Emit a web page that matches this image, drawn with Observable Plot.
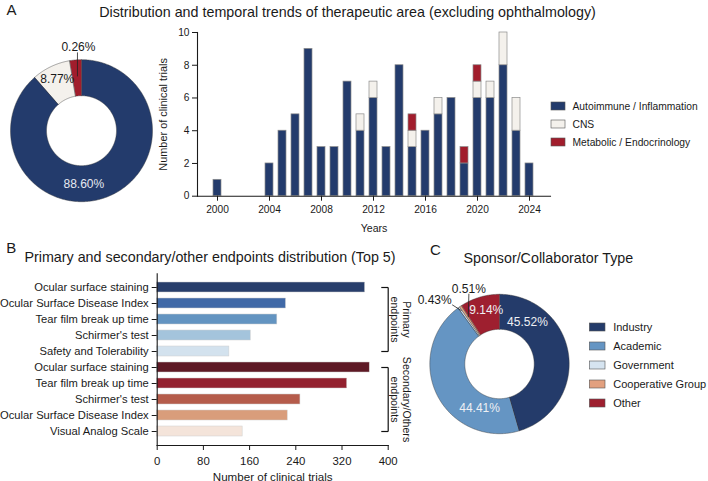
<!DOCTYPE html>
<html>
<head>
<meta charset="utf-8">
<script src="https://cdn.jsdelivr.net/npm/d3@7"></script>
<script src="https://cdn.jsdelivr.net/npm/@observablehq/plot@0.6"></script>
<style>
  html, body { margin: 0; padding: 0; background: #fff; }
  #fig { position: relative; width: 708px; height: 481px; overflow: hidden;
         font-family: "Liberation Sans", Arial, Helvetica, sans-serif; color: #1a1a1a; }
  .panel { position: absolute; }
  .txt { position: absolute; white-space: nowrap; line-height: 1; }
</style>
</head>
<body>
<div id="fig"></div>
<script>
// ---- Data -------------------------------------------------------------
// Panel A: trials per year by therapeutic area
const areas = ["Autoimmune / Inflammation", "CNS", "Metabolic / Endocrinology"];
const years = [2000, 2001, 2002, 2003, 2004, 2005, 2006, 2007, 2008, 2009, 2010, 2011, 2012,
               2013, 2014, 2015, 2016, 2017, 2018, 2019, 2020, 2021, 2022, 2023, 2024];
const autoimmune = [1, 0, 0, 0, 2, 4, 5, 9, 3, 3, 7, 4, 6, 3, 8, 3, 4, 5, 6, 2, 6, 6, 8, 4, 2];
const cns        = [0, 0, 0, 0, 0, 0, 0, 0, 0, 0, 0, 1, 1, 0, 0, 1, 0, 1, 0, 0, 1, 1, 2, 2, 0];
const metabolic  = [0, 0, 0, 0, 0, 0, 0, 0, 0, 0, 0, 0, 0, 0, 0, 1, 0, 0, 0, 1, 1, 0, 0, 0, 0];
const yearTicks = [2000, 2004, 2008, 2012, 2016, 2020, 2024];
const countTicks = [0, 2, 4, 6, 8, 10];
const areaShareLabels = ["88.60%", "8.77%", "0.26%"];

// Panel B: top-5 endpoints
const endpointNames = [
  "Ocular surface staining", "Ocular Surface Disease Index", "Tear film break up time",
  "Schirmer's test", "Safety and Tolerability",
  "Ocular surface staining", "Tear film break up time", "Schirmer's test",
  "Ocular Surface Disease Index", "Visual Analog Scale"
];
const endpointTrials = [360, 223, 208, 162, 125, 368, 329, 248, 226, 148];
const endpointGroupNames = ["Primary\nendpoints", "Secondary/Others\nendpoints"];
const endpointGroupRows = [[0, 4], [5, 9]];
const trialTicks = [0, 80, 160, 240, 320, 400];

// Panel C: sponsor / collaborator type (%)
const sponsorTypes = ["Industry", "Academic", "Government", "Cooperative Group", "Other"];
const sponsorShare = [45.52, 44.41, 0.43, 0.51, 9.14];

// ---- Styles -----------------------------------------------------------
const FONT = "'Liberation Sans', Arial, Helvetica, sans-serif";
const INK = "#1a1a1a";
const areaColors = ["#233b6c", "#f4f1ec", "#a11d2c"];
const endpointColors = ["#283e6b", "#4069a7", "#6394c1", "#a4c4dc", "#d3e2ee",
                        "#5e1925", "#93212f", "#b55c4b", "#d99d7b", "#f4e4da"];
const sponsorColors = ["#243b6a", "#6595c3", "#d6e4f0", "#e2a07f", "#9e1f2f"];
const baseStyle = {fontFamily: FONT, color: INK, background: "transparent", overflow: "visible"};

const fig = document.getElementById("fig");

function place(node, left, top) {
  const wrap = document.createElement("div");
  wrap.className = "panel";
  wrap.style.left = left + "px";
  wrap.style.top = top + "px";
  wrap.append(node);
  fig.append(wrap);
}

function caption(text, {x, baseline, size, anchor = "start"}) {
  const div = document.createElement("div");
  div.className = "txt";
  div.textContent = text;
  div.style.fontSize = size + "px";
  div.style.top = (baseline - 0.8465 * size) + "px";
  div.style.left = x + "px";
  if (anchor === "middle") div.style.transform = "translateX(-50%)";
  fig.append(div);
}

// Donut drawn as filled bands between an outer and inner radius (1 unit = 1 px)
function donut({names, values, colors, width, height, cx, cy, rOuter, rInner, labels, fontSize}) {
  const total = d3.sum(values);
  const ends = Array.from(d3.cumsum(values), (v) => v / total * 360);
  const starts = [0, ...ends.slice(0, -1)];
  const mids = names.map((_, i) => (starts[i] + ends[i]) / 2);
  const rad = (a) => a * Math.PI / 180;
  const polar = (a, r) => ({x: r * Math.sin(rad(a)), y: r * Math.cos(rad(a))});
  const ring = names.flatMap((name, i) => {
    const n = Math.max(2, Math.ceil((ends[i] - starts[i]) / 0.5));
    return d3.range(n + 1).map((k) => {
      const a = starts[i] + (ends[i] - starts[i]) * k / n;
      const o = polar(a, rOuter), q = polar(a, rInner);
      return {name, x1: o.x, y1: o.y, x2: q.x, y2: q.y};
    });
  });
  const leaders = [];
  const texts = [];
  for (const l of labels) {
    if (l.leader) {
      const s = polar(mids[l.i], l.leader.r0);
      const e = {x: s.x + l.leader.dx, y: s.y + l.leader.dy};
      leaders.push({x1: s.x, y1: s.y, x2: e.x, y2: e.y});
      texts.push({x: e.x + l.offset[0], y: e.y + l.offset[1], text: l.text, fill: l.fill, anchor: l.anchor || "middle"});
    } else {
      const p = polar(l.angle ?? mids[l.i], l.r);
      texts.push({x: p.x, y: p.y, text: l.text, fill: l.fill, anchor: "middle"});
    }
  }
  return Plot.plot({
    width, height, margin: 0,
    style: baseStyle,
    x: {domain: [-cx, width - cx], axis: null},
    y: {domain: [cy - height, cy], axis: null},
    color: {domain: names, range: colors},
    marks: [
      Plot.area(ring, {x1: "x1", y1: "y1", x2: "x2", y2: "y2", z: "name", fill: "name",
                       stroke: "#3a3a3a", strokeWidth: 0.45}),
      Plot.link(leaders, {x1: "x1", y1: "y1", x2: "x2", y2: "y2", stroke: "#222", strokeWidth: 0.8}),
      ...texts.map((t) => Plot.text([t], {x: "x", y: "y", text: "text", fill: t.fill,
                                          textAnchor: t.anchor, fontSize}))
    ]
  });
}

function swatches({names, colors, width, step, swatchX, swatchHeight, gap, fontSize}) {
  const p = 1 - swatchHeight / step;
  return Plot.plot({
    width, height: step * names.length, margin: 0,
    style: baseStyle,
    x: {domain: [0, 1], range: swatchX, axis: null},
    y: {type: "band", domain: names, paddingInner: p, paddingOuter: p / 2, axis: null},
    color: {domain: names, range: colors},
    marks: [
      Plot.barX(names, {x1: 0, x2: 1, y: (d) => d, fill: (d) => d, stroke: "#555", strokeWidth: 0.6}),
      Plot.text(names, {x: 1, y: (d) => d, text: (d) => d, textAnchor: "start", dx: gap,
                        fontSize, fill: INK})
    ]
  });
}

// ---- Panel A ----------------------------------------------------------
caption("A", {x: 6.5, baseline: 14.5, size: 15});
caption("Distribution and temporal trends of therapeutic area (excluding ophthalmology)",
        {x: 347.5, baseline: 16.8, size: 14.3, anchor: "middle"});

const areaCounts = [d3.sum(autoimmune), d3.sum(cns), d3.sum(metabolic)];
place(donut({
  names: areas, values: areaCounts, colors: areaColors,
  width: 165, height: 170, cx: 81.5, cy: 90.7, rOuter: 71, rInner: 35, fontSize: 12,
  labels: [
    {i: 0, angle: 178, r: 52.6, text: areaShareLabels[0], fill: "#e6e9f0"},
    {i: 1, r: 58, text: areaShareLabels[1], fill: INK},
    {i: 2, text: areaShareLabels[2], fill: INK, leader: {r0: 55, dx: 0, dy: 24}, offset: [1, 5.4]}
  ]
}), 0, 40);

const trialsByYear = years.flatMap((year, i) => [
  {year, area: areas[0], n: autoimmune[i]},
  {year, area: areas[1], n: cns[i]},
  {year, area: areas[2], n: metabolic[i]}
]).filter((d) => d.n > 0);

place(Plot.plot({
  width: 402, height: 215,
  marginLeft: 47, marginRight: 2, marginTop: 12, marginBottom: 39.3,
  style: baseStyle,
  x: {type: "band", domain: years, paddingInner: 0.36, paddingOuter: 0.29},
  y: {domain: [0, 10]},
  color: {domain: areas, range: areaColors},
  marks: [
    Plot.barY(trialsByYear, {x: "year", y: "n", fill: "area", stroke: "#8c8c8c", strokeWidth: 0.7}),
    Plot.frame({anchor: "left", strokeWidth: 1.1}),
    Plot.frame({anchor: "bottom", strokeWidth: 1.1}),
    Plot.axisX({ticks: yearTicks, tickFormat: (d) => `${d}`, tickSize: 5, tickPadding: 5,
                fontSize: 10.2, label: null}),
    Plot.axisX({ticks: [], fontSize: 10.6, label: "Years", labelAnchor: "center",
                labelArrow: "none", labelOffset: 36}),
    Plot.axisY({ticks: countTicks, tickSize: 5, tickPadding: 3, fontSize: 10.2, label: null}),
    Plot.axisY({ticks: [], fontSize: 10.9, label: "Number of clinical trials", labelAnchor: "center",
                labelArrow: "none", labelOffset: 38})
  ]
}), 150, 20);

place(swatches({names: areas, colors: areaColors, width: 160, step: 18.33,
                swatchX: [3, 17], swatchHeight: 8, gap: 7, fontSize: 10.3}), 548, 95.8);

// ---- Panel B ----------------------------------------------------------
caption("B", {x: 6.2, baseline: 252.5, size: 15});
caption("Primary and secondary/other endpoints distribution (Top 5)",
        {x: 210, baseline: 262, size: 14.3, anchor: "middle"});

const endpointRows = endpointNames.map((name, key) => ({key, name, n: endpointTrials[key]}));
const endpointGroups = endpointGroupNames.map((name, g) => ({
  name, first: endpointGroupRows[g][0], last: endpointGroupRows[g][1],
  mid: (endpointGroupRows[g][0] + endpointGroupRows[g][1]) / 2
}));
const bracketEnds = endpointGroups.flatMap((g) => [g.first, g.last]);

place(Plot.plot({
  width: 420, height: 216,
  marginLeft: 156.7, marginRight: 32.3, marginTop: 8.3, marginBottom: 36,
  style: baseStyle,
  x: {domain: [0, 400]},
  y: {type: "band", domain: endpointRows.map((d) => d.key), padding: 0.35},
  color: {domain: endpointRows.map((d) => d.key), range: endpointColors},
  marks: [
    Plot.barX(endpointRows, {x: "n", y: "key", fill: "key", stroke: "#cfcfcf", strokeWidth: 0.5}),
    Plot.frame({anchor: "left", strokeWidth: 1.1}),
    Plot.frame({anchor: "bottom", strokeWidth: 1.1}),
    Plot.axisY({tickFormat: (k) => endpointNames[k], tickSize: 5, tickPadding: 3.5,
                fontSize: 11.2, label: null}),
    Plot.axisX({ticks: trialTicks, tickSize: 5, tickPadding: 6, fontSize: 11.4, label: null}),
    Plot.axisX({ticks: [], fontSize: 11.6, label: "Number of clinical trials", labelAnchor: "center",
                labelArrow: "none", labelOffset: 35}),
    // group brackets on the right edge
    Plot.link(endpointGroups, {x1: 400, x2: 400, y1: "first", y2: "last", stroke: "#111", strokeWidth: 1.2}),
    Plot.link(bracketEnds, {x1: 388, x2: 400, y1: (d) => d, y2: (d) => d, stroke: "#111", strokeWidth: 1.2}),
    Plot.text(endpointGroups, {x: 400, y: (d) => d.mid, text: "name", rotate: 90, dx: 13,
                               fontSize: 10.6, lineHeight: 1.12, fill: INK})
  ]
}), 0, 265);

// ---- Panel C ----------------------------------------------------------
caption("C", {x: 430, baseline: 255, size: 15});
caption("Sponsor/Collaborator Type", {x: 548.3, baseline: 263, size: 14.3, anchor: "middle"});

const pct = (v) => `${v.toFixed(2)}%`;
place(donut({
  names: sponsorTypes, values: sponsorShare, colors: sponsorColors,
  width: 150, height: 165, cx: 74.5, cy: 84, rOuter: 69.7, rInner: 34.7, fontSize: 12,
  labels: [
    {i: 0, angle: 33, r: 50.4, text: pct(sponsorShare[0]), fill: "#eef0f4"},
    {i: 1, angle: 205, r: 48.3, text: pct(sponsorShare[1]), fill: "#eef0f4"},
    {i: 2, text: pct(sponsorShare[2]), fill: INK, anchor: "end",
     leader: {r0: 66, dx: -9.5, dy: 6}, offset: [-0.5, 4.3]},
    {i: 3, text: pct(sponsorShare[3]), fill: INK,
     leader: {r0: 57, dx: 0.6, dy: 23.4}, offset: [0, 5]},
    {i: 4, angle: 345.7, r: 55.7, text: pct(sponsorShare[4]), fill: "#eef0f4"}
  ]
}), 425, 280);

place(swatches({names: sponsorTypes, colors: sponsorColors, width: 123, step: 19.4,
                swatchX: [4.3, 20], swatchHeight: 8, gap: 7.7, fontSize: 11}), 585, 316);
</script>
</body>
</html>
